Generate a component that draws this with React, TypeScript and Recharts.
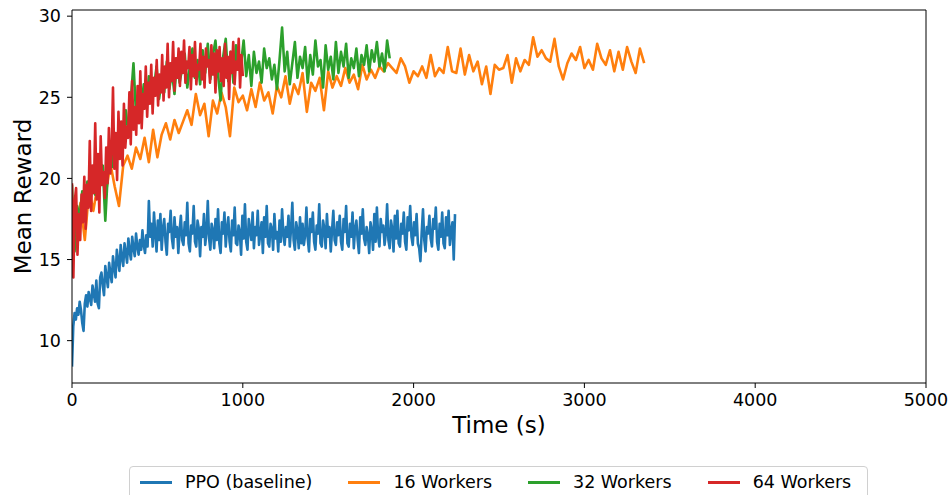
import { Label, Line, LineChart, ReferenceLine, XAxis, YAxis } from 'recharts';

// seconds between logged points for each run
const PPO_STEP = 7.5;
const W16_STEP = 25;
const W32_STEP = 15;
const W64_STEP = 8;

const ppoBaseline = [
  // warm-up
  8.4, 10.9, 11.7, 11.3, 12.0, 11.6, 12.4, 11.9, 11.1, 10.6,
  12.3, 12.8, 12.1, 13.0, 12.6, 12.2, 13.4, 12.9, 12.4, 13.7,
  12.3, 12.0, 13.9, 14.2, 13.4, 12.8, 14.6, 13.9, 13.3, 14.8,
  14.1, 13.6, 15.2, 14.5, 13.9, 15.6, 14.9, 14.3, 15.9, 15.1,
  14.6, 16.0, 15.4, 14.8, 16.3, 15.5, 15.0, 16.4, 15.7, 15.2,
  16.6, 15.8, 15.3, 16.2, 15.6, 16.8, 15.9, 15.4, 16.5, 15.8,
  // plateau
  18.6, 16.4, 17.2, 15.8, 17.9, 16.6, 15.5, 17.4, 16.2, 17.8,
  15.6, 16.9, 17.5, 16.1, 15.3, 17.2, 16.7, 18.0, 16.3, 15.7,
  17.6, 16.4, 17.0, 15.4, 16.8, 17.7, 16.2, 15.9, 17.3, 16.5,
  18.5, 16.0, 15.5, 17.1, 16.6, 18.3, 16.1, 15.8, 17.4, 16.9,
  15.2, 17.0, 16.4, 17.8, 15.9, 16.7, 18.6, 16.3, 15.6, 17.2,
  16.8, 15.7, 17.5, 16.2, 18.1, 16.0, 15.4, 17.3, 16.6, 17.9,
  15.8, 16.9, 17.6, 16.1, 15.5, 17.4, 16.5, 18.2, 16.0, 15.9,
  17.1, 16.7, 15.3, 17.7, 16.3, 18.4, 16.1, 15.6, 17.5, 16.8,
  16.2, 17.9, 15.7, 17.0, 16.5, 18.0, 15.9, 16.6, 17.3, 15.4,
  17.6, 16.4, 18.3, 16.0, 15.8, 17.2, 16.9, 15.6, 17.8, 16.3,
  16.7, 15.5, 17.4, 16.1, 18.1, 16.6, 15.9, 17.0, 16.4, 17.7,
  15.8, 16.9, 18.5, 16.2, 15.6, 17.3, 16.8, 15.7, 17.6, 16.0,
  17.2, 15.9, 16.5, 18.2, 16.3, 15.5, 17.5, 16.7, 17.9, 16.1,
  15.6, 17.1, 16.6, 18.4, 16.0, 15.8, 17.4, 16.9, 15.7, 17.8,
  16.4, 17.0, 15.5, 16.8, 18.0, 16.2, 15.9, 17.3, 16.5, 17.7,
  16.1, 15.6, 17.5, 16.7, 18.3, 16.0, 15.8, 17.2, 16.4, 17.9,
  15.7, 16.9, 17.4, 16.2, 15.4, 17.6, 16.6, 18.1, 16.3, 15.9,
  17.0, 16.5, 15.4, 17.3, 16.8, 15.6, 17.8, 16.1, 18.2, 16.4,
  15.8, 17.5, 16.7, 17.1, 15.9, 16.6, 18.4, 16.2, 15.7, 17.4,
  16.9, 15.5, 17.7, 16.3, 18.0, 16.0, 15.8, 17.2, 16.6, 17.9,
  16.1, 15.6, 17.6, 16.8, 18.3, 16.4, 15.9, 17.3, 16.5, 17.8,
  16.0, 15.7, 14.9, 16.7, 18.1, 16.2, 15.5, 17.0, 16.6, 17.7,
  16.3, 15.8, 17.5, 16.9, 18.2, 16.1, 15.6, 17.2, 16.4, 17.9,
  16.0, 15.7, 17.6, 16.5, 18.0, 15.9, 16.8, 17.3, 15.0, 17.8,
];

const workers16 = [
  18.0, 17.0, 18.5, 16.2, 19.3, 18.0, 19.6, 20.5, 19.2, 20.9, 19.5, 18.3, 20.8, 21.4, 20.6, 21.9,
  21.2, 22.5, 21.0, 23.0, 21.3, 22.7, 23.4, 22.4, 23.6, 22.8, 23.5, 24.2, 23.3, 25.2, 23.9, 24.6,
  22.6, 24.8, 24.0, 25.3, 24.4, 22.6, 25.6, 24.7, 25.1, 24.2, 25.5, 24.4, 25.9, 24.8, 25.3, 24.0,
  25.7, 25.0, 26.3, 24.6, 25.8, 25.2, 26.5, 24.1, 25.9, 25.4, 26.2, 24.2, 26.6, 25.6, 26.3, 25.7,
  26.8, 25.9, 26.4, 25.5, 27.0, 26.1, 26.7, 26.2, 26.9, 26.6, 27.1, 26.8, 26.5, 27.4, 26.9, 25.9,
  26.6, 26.3, 26.9, 26.2, 27.6, 26.3, 26.8, 26.5, 28.1, 26.6, 26.5, 28.0, 26.4, 27.6, 26.6, 27.2,
  25.8, 26.9, 25.2, 27.0, 26.7, 26.8, 27.6, 25.9, 27.4, 26.6, 27.3, 27.0, 28.7, 27.5, 27.9, 27.4,
  27.2, 28.6, 26.9, 26.1, 27.1, 27.7, 27.3, 28.1, 26.8, 27.3, 26.7, 28.3, 27.4, 27.0, 27.9, 26.6,
  27.8, 26.7, 28.1, 27.2, 26.5, 28.0, 27.1,
];

const workers32 = [
  19.6, 15.5, 18.3, 17.6, 19.2, 18.1, 19.8, 18.7, 20.3, 19.0,
  21.2, 19.6, 20.8, 17.4, 20.4, 21.9, 20.7, 22.5, 21.3, 23.4,
  22.1, 24.2, 22.8, 24.9, 27.1, 23.9, 25.2, 24.3, 25.8, 24.5,
  26.3, 24.7, 25.6, 26.9, 24.9, 26.1, 25.3, 27.2, 25.5, 26.6,
  25.2, 27.4, 25.9, 26.8, 27.7, 25.6, 26.9, 28.0, 26.2, 27.3,
  25.8, 27.9, 26.5, 28.3, 26.1, 27.6, 28.5, 26.4, 24.8, 27.5,
  28.6, 26.0, 27.8, 25.9, 28.2, 26.7, 27.1, 28.5, 26.3, 27.6,
  25.7, 27.8, 26.5, 27.2, 25.9, 28.0, 26.8, 27.4, 26.1, 27.0,
  25.5, 27.3, 29.3, 26.6, 27.8, 25.8, 27.1, 28.4, 26.2, 27.5,
  26.8, 28.1, 25.9, 27.6, 26.4, 28.5, 26.9, 27.3, 25.6, 28.2,
  26.7, 27.5, 26.1, 28.4, 26.5, 27.8, 26.9, 28.3, 26.2, 27.4,
  26.8, 28.0, 26.3, 27.6, 27.0, 28.2, 26.6, 27.9, 27.2, 28.4,
  26.9, 27.7, 26.6, 28.5, 27.4,
];

const workers64 = [
  19.7, 13.9, 18.6, 19.4, 15.3, 17.8, 16.2, 19.0, 17.3, 20.1, 16.9, 19.6, 18.2,
  22.3, 18.0, 20.8, 19.1, 23.4, 18.7, 21.5, 17.9, 22.6, 19.6, 20.4, 18.8, 21.9,
  19.7, 23.1, 20.3, 21.6, 25.6, 20.6, 22.8, 19.9, 24.1, 21.2, 23.5, 20.8,
  24.6, 21.9, 23.2, 22.5, 25.3, 22.1, 26.0, 23.0, 24.4, 22.7, 25.7, 23.4, 26.6,
  23.1, 25.2, 24.3, 26.9, 23.8, 25.9, 24.6, 27.0, 24.0, 26.2, 25.1, 27.3,
  24.5, 26.4, 25.3, 27.6, 24.8, 26.9, 25.6, 28.3, 25.0, 27.1, 26.0, 28.4, 25.4,
  27.4, 26.2, 28.0, 25.7, 27.8, 26.5, 28.5, 25.9, 27.2, 26.8, 28.1, 25.5,
  27.6, 26.3, 28.4, 25.8, 27.0, 26.7, 28.3, 26.1, 27.5, 25.6, 28.0, 26.9, 27.3,
  25.9, 28.2, 26.4, 27.7, 25.3, 27.9, 26.6, 28.1, 26.0, 27.4, 25.7, 28.3,
  26.2, 27.5, 24.9, 27.8, 26.5, 28.4, 25.8, 27.2, 26.7, 28.6, 25.6, 27.6, 26.3,
];

const xTicks = [0, 1000, 2000, 3000, 4000, 5000];
const yTicks = [10, 15, 20, 25, 30];
const X_MAX = 5000;
const Y_MIN = 7.39;
const Y_MAX = 30.38;

const series = [
  { name: 'PPO (baseline)', values: ppoBaseline, step: PPO_STEP, color: '#1f77b4' },
  { name: '16 Workers', values: workers16, step: W16_STEP, color: '#ff7f0e' },
  { name: '32 Workers', values: workers32, step: W32_STEP, color: '#2ca02c' },
  { name: '64 Workers', values: workers64, step: W64_STEP, color: '#d62728' },
];

const toRows = (values: number[], step: number) =>
  values.map((v, i) => ({ t: i * step, v }));

const FONT = '"DejaVu Sans", sans-serif';
const tickStyle = { fill: '#000', fontSize: 17.5, fontFamily: FONT };

function LegendBox() {
  return (
    <div
      style={{
        position: 'absolute',
        left: 129,
        top: 466,
        width: 739,
        height: 44,
        boxSizing: 'border-box',
        border: '1px solid #d0d0d0',
        borderRadius: 4,
        background: '#fff',
        display: 'flex',
        alignItems: 'flex-start',
        paddingLeft: 10,
        paddingTop: 4,
        fontFamily: FONT,
        fontSize: 17.5,
        lineHeight: '22px',
        color: '#000',
      }}
    >
      {series.map((s, i) => (
        <div
          key={s.name}
          style={{ display: 'flex', alignItems: 'center', marginLeft: i === 0 ? 0 : 36 }}
        >
          <div style={{ width: 32, height: 3, background: s.color, marginRight: 13 }} />
          <span style={{ whiteSpace: 'nowrap' }}>{s.name}</span>
        </div>
      ))}
    </div>
  );
}

export default function App() {
  return (
    <div style={{ position: 'absolute', left: 0, top: 0, width: 952, height: 495, overflow: 'hidden', background: '#fff' }}>
      <LineChart width={952} height={495} margin={{ top: 10, right: 26, bottom: 0, left: 0 }}>
        <XAxis
          type="number"
          dataKey="t"
          domain={[0, X_MAX]}
          ticks={xTicks}
          allowDataOverflow
          height={112}
          stroke="#000"
          tickSize={5}
          tickMargin={6}
          tick={tickStyle}
        >
          <Label
            content={({ viewBox }: any) => (
              <text
                x={viewBox.x + viewBox.width / 2}
                y={viewBox.y + 50}
                textAnchor="middle"
                fontSize={23}
                fontFamily={FONT}
                fill="#000"
              >
                Time (s)
              </text>
            )}
          />
        </XAxis>
        <YAxis
          type="number"
          domain={[Y_MIN, Y_MAX]}
          ticks={yTicks}
          allowDataOverflow
          width={72}
          stroke="#000"
          tickSize={5}
          tickMargin={6}
          tick={tickStyle}
        >
          <Label
            content={({ viewBox }: any) => {
              const cy = viewBox.y + viewBox.height / 2;
              return (
                <text
                  x={31}
                  y={cy}
                  textAnchor="middle"
                  fontSize={23}
                  fontFamily={FONT}
                  fill="#000"
                  transform={`rotate(-90, 31, ${cy})`}
                >
                  Mean Reward
                </text>
              );
            }}
          />
        </YAxis>
        {series.map((s) => (
          <Line
            key={s.name}
            name={s.name}
            data={toRows(s.values, s.step)}
            dataKey="v"
            type="linear"
            stroke={s.color}
            strokeWidth={2.6}
            strokeLinejoin="round"
            dot={false}
            activeDot={false}
            isAnimationActive={false}
          />
        ))}
        <ReferenceLine y={Y_MAX} stroke="#000" strokeWidth={1} />
        <ReferenceLine x={X_MAX} stroke="#000" strokeWidth={1} />
      </LineChart>
      <LegendBox />
    </div>
  );
}
